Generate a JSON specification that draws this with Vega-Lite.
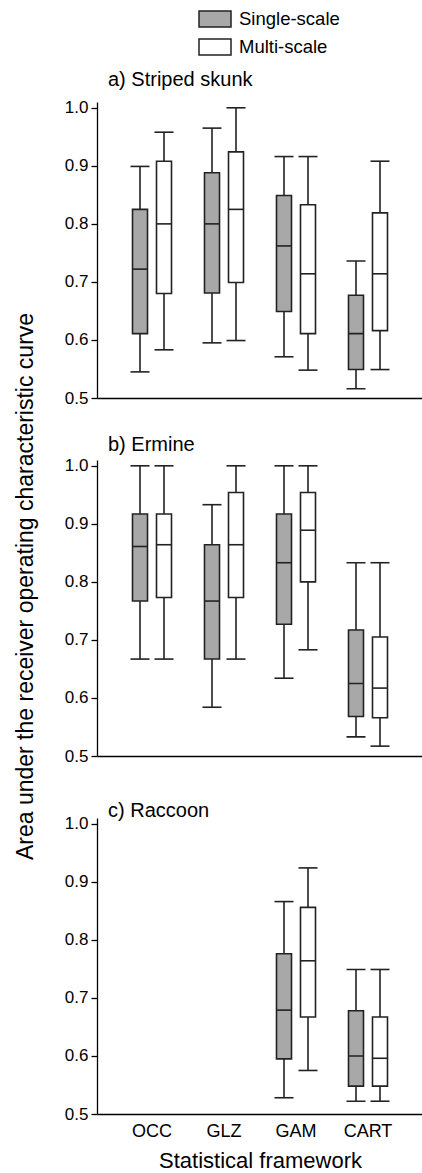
{
  "$schema": "https://vega.github.io/schema/vega-lite/v6.json",
  "autosize": {"type": "pad"},
  "padding": {"left": 14, "top": 2, "right": 1, "bottom": 1},
  "background": "white",
  "config": {
    "view": {"stroke": null},
    "font": "Liberation Sans",
    "axis": {"grid": false, "domainColor": "#000", "tickColor": "#000", "labelColor": "#000", "titleColor": "#000", "labelFont": "Liberation Sans", "titleFont": "Liberation Sans", "titleFontWeight": "normal", "domainWidth": 1.3, "tickWidth": 1.3}
  },
  "datasets": {
    "auc": [
      {"species": "Striped skunk", "framework": "OCC", "scale": "Single-scale", "min": 0.545, "q1": 0.611, "median": 0.722, "q3": 0.825, "max": 0.899},
      {"species": "Striped skunk", "framework": "OCC", "scale": "Multi-scale", "min": 0.583, "q1": 0.680, "median": 0.800, "q3": 0.908, "max": 0.958},
      {"species": "Striped skunk", "framework": "GLZ", "scale": "Single-scale", "min": 0.595, "q1": 0.681, "median": 0.800, "q3": 0.888, "max": 0.965},
      {"species": "Striped skunk", "framework": "GLZ", "scale": "Multi-scale", "min": 0.599, "q1": 0.699, "median": 0.825, "q3": 0.924, "max": 1.0},
      {"species": "Striped skunk", "framework": "GAM", "scale": "Single-scale", "min": 0.571, "q1": 0.649, "median": 0.762, "q3": 0.849, "max": 0.916},
      {"species": "Striped skunk", "framework": "GAM", "scale": "Multi-scale", "min": 0.548, "q1": 0.611, "median": 0.714, "q3": 0.833, "max": 0.916},
      {"species": "Striped skunk", "framework": "CART", "scale": "Single-scale", "min": 0.516, "q1": 0.549, "median": 0.611, "q3": 0.677, "max": 0.736},
      {"species": "Striped skunk", "framework": "CART", "scale": "Multi-scale", "min": 0.549, "q1": 0.616, "median": 0.714, "q3": 0.819, "max": 0.908},
      {"species": "Ermine", "framework": "OCC", "scale": "Single-scale", "min": 0.667, "q1": 0.767, "median": 0.861, "q3": 0.917, "max": 1.0},
      {"species": "Ermine", "framework": "OCC", "scale": "Multi-scale", "min": 0.667, "q1": 0.773, "median": 0.864, "q3": 0.917, "max": 1.0},
      {"species": "Ermine", "framework": "GLZ", "scale": "Single-scale", "min": 0.584, "q1": 0.667, "median": 0.767, "q3": 0.864, "max": 0.933},
      {"species": "Ermine", "framework": "GLZ", "scale": "Multi-scale", "min": 0.667, "q1": 0.773, "median": 0.864, "q3": 0.954, "max": 1.0},
      {"species": "Ermine", "framework": "GAM", "scale": "Single-scale", "min": 0.634, "q1": 0.727, "median": 0.833, "q3": 0.917, "max": 1.0},
      {"species": "Ermine", "framework": "GAM", "scale": "Multi-scale", "min": 0.683, "q1": 0.800, "median": 0.889, "q3": 0.954, "max": 1.0},
      {"species": "Ermine", "framework": "CART", "scale": "Single-scale", "min": 0.533, "q1": 0.568, "median": 0.625, "q3": 0.717, "max": 0.833},
      {"species": "Ermine", "framework": "CART", "scale": "Multi-scale", "min": 0.517, "q1": 0.566, "median": 0.617, "q3": 0.705, "max": 0.833},
      {"species": "Raccoon", "framework": "GAM", "scale": "Single-scale", "min": 0.528, "q1": 0.595, "median": 0.679, "q3": 0.776, "max": 0.866},
      {"species": "Raccoon", "framework": "GAM", "scale": "Multi-scale", "min": 0.575, "q1": 0.667, "median": 0.764, "q3": 0.856, "max": 0.924},
      {"species": "Raccoon", "framework": "CART", "scale": "Single-scale", "min": 0.522, "q1": 0.548, "median": 0.600, "q3": 0.678, "max": 0.749},
      {"species": "Raccoon", "framework": "CART", "scale": "Multi-scale", "min": 0.522, "q1": 0.548, "median": 0.596, "q3": 0.667, "max": 0.749}
    ]
  },
  "data": {"name": "auc"},
  "bounds": "flush",
  "spacing": 62,
  "vconcat": [
    {
      "width": 326, "height": 296,
      "title": {"text": "a) Striped skunk", "anchor": "start", "frame": "group", "dx": 11, "offset": -7, "baseline": "alphabetic", "fontSize": 20, "fontWeight": "normal", "font": "Liberation Sans", "color": "#000"},
      "transform": [{"filter": "datum.species === 'Striped skunk'"}],
      "encoding": {
        "x": {"field": "framework", "type": "nominal", "scale": {"domain": ["OCC", "GLZ", "GAM", "CART"], "paddingInner": 0, "paddingOuter": 0.264}, "axis": {"labels": false, "ticks": false, "title": null}},
        "xOffset": {"field": "scale", "type": "nominal", "scale": {"domain": ["Single-scale", "Multi-scale"], "paddingInner": 0.375, "paddingOuter": 0.6875}}
      },
      "layer": [
        {"mark": {"type": "rule", "stroke": "#222", "strokeWidth": 1.6},
         "encoding": {"y": {"field": "min", "type": "quantitative", "scale": {"domain": [0.5, 1.01], "nice": false, "zero": false}, "axis": {"values": [0.5, 0.6, 0.7, 0.8, 0.9, 1.0], "format": ".1f", "tickSize": 6, "labelPadding": 3, "labelFontSize": 17, "title": "Area under the receiver operating characteristic curve", "titleFontSize": 23, "titlePadding": 27, "titleY": 484}}, "y2": {"field": "max"}}},
        {"mark": {"type": "tick", "color": "#222", "size": 19, "thickness": 1.6, "opacity": 1}, "encoding": {"y": {"field": "min", "type": "quantitative"}}},
        {"mark": {"type": "tick", "color": "#222", "size": 19, "thickness": 1.6, "opacity": 1}, "encoding": {"y": {"field": "max", "type": "quantitative"}}},
        {"mark": {"type": "bar", "stroke": "#222", "strokeWidth": 1.6, "opacity": 1},
         "encoding": {"y": {"field": "q1", "type": "quantitative"}, "y2": {"field": "q3"},
           "fill": {"field": "scale", "type": "nominal", "scale": {"domain": ["Single-scale", "Multi-scale"], "range": ["#a8a8a8", "#ffffff"]},
             "legend": {"orient": "none", "legendX": 101, "legendY": -100, "title": null, "symbolType": "M-1,-0.5H1V0.5H-1Z", "symbolSize": 1024, "symbolStrokeColor": "#222", "symbolStrokeWidth": 1.5, "labelFontSize": 18.5, "labelFont": "Liberation Sans", "labelColor": "#000", "labelOffset": 7, "rowPadding": -2,
               "encode": {"symbols": {"update": {"stroke": {"value": "#222"}, "strokeWidth": {"value": 1.5}, "opacity": {"value": 1}}}}}}}},
        {"mark": {"type": "tick", "color": "#222", "size": 15, "thickness": 1.6, "opacity": 1}, "encoding": {"y": {"field": "median", "type": "quantitative"}}}
      ]
    },
    {
      "width": 326, "height": 296,
      "title": {"text": "b) Ermine", "anchor": "start", "frame": "group", "dx": 11, "offset": -14, "baseline": "alphabetic", "fontSize": 20, "fontWeight": "normal", "font": "Liberation Sans", "color": "#000"},
      "transform": [{"filter": "datum.species === 'Ermine'"}],
      "encoding": {
        "x": {"field": "framework", "type": "nominal", "scale": {"domain": ["OCC", "GLZ", "GAM", "CART"], "paddingInner": 0, "paddingOuter": 0.264}, "axis": {"labels": false, "ticks": false, "title": null}},
        "xOffset": {"field": "scale", "type": "nominal", "scale": {"domain": ["Single-scale", "Multi-scale"], "paddingInner": 0.375, "paddingOuter": 0.6875}}
      },
      "layer": [
        {"mark": {"type": "rule", "stroke": "#222", "strokeWidth": 1.6},
         "encoding": {"y": {"field": "min", "type": "quantitative", "scale": {"domain": [0.5, 1.01], "nice": false, "zero": false}, "axis": {"values": [0.5, 0.6, 0.7, 0.8, 0.9, 1.0], "format": ".1f", "tickSize": 6, "labelPadding": 3, "labelFontSize": 17, "title": null}}, "y2": {"field": "max"}}},
        {"mark": {"type": "tick", "color": "#222", "size": 19, "thickness": 1.6, "opacity": 1}, "encoding": {"y": {"field": "min", "type": "quantitative"}}},
        {"mark": {"type": "tick", "color": "#222", "size": 19, "thickness": 1.6, "opacity": 1}, "encoding": {"y": {"field": "max", "type": "quantitative"}}},
        {"mark": {"type": "bar", "stroke": "#222", "strokeWidth": 1.6, "opacity": 1},
         "encoding": {"y": {"field": "q1", "type": "quantitative"}, "y2": {"field": "q3"},
           "fill": {"field": "scale", "type": "nominal", "scale": {"domain": ["Single-scale", "Multi-scale"], "range": ["#a8a8a8", "#ffffff"]}, "legend": null}}},
        {"mark": {"type": "tick", "color": "#222", "size": 15, "thickness": 1.6, "opacity": 1}, "encoding": {"y": {"field": "median", "type": "quantitative"}}}
      ]
    },
    {
      "width": 326, "height": 296,
      "title": {"text": "c) Raccoon", "anchor": "start", "frame": "group", "dx": 11, "offset": -22, "baseline": "alphabetic", "fontSize": 20, "fontWeight": "normal", "font": "Liberation Sans", "color": "#000"},
      "transform": [{"filter": "datum.species === 'Raccoon'"}],
      "encoding": {
        "x": {"field": "framework", "type": "nominal", "scale": {"domain": ["OCC", "GLZ", "GAM", "CART"], "paddingInner": 0, "paddingOuter": 0.264}, "axis": {"labels": true, "ticks": false, "labelAngle": 0, "labelPadding": 8, "labelFontSize": 18, "title": "Statistical framework", "titleFontSize": 22, "titlePadding": 10}},
        "xOffset": {"field": "scale", "type": "nominal", "scale": {"domain": ["Single-scale", "Multi-scale"], "paddingInner": 0.375, "paddingOuter": 0.6875}}
      },
      "layer": [
        {"mark": {"type": "rule", "stroke": "#222", "strokeWidth": 1.6},
         "encoding": {"y": {"field": "min", "type": "quantitative", "scale": {"domain": [0.5, 1.01], "nice": false, "zero": false}, "axis": {"values": [0.5, 0.6, 0.7, 0.8, 0.9, 1.0], "format": ".1f", "tickSize": 6, "labelPadding": 3, "labelFontSize": 17, "title": null}}, "y2": {"field": "max"}}},
        {"mark": {"type": "tick", "color": "#222", "size": 19, "thickness": 1.6, "opacity": 1}, "encoding": {"y": {"field": "min", "type": "quantitative"}}},
        {"mark": {"type": "tick", "color": "#222", "size": 19, "thickness": 1.6, "opacity": 1}, "encoding": {"y": {"field": "max", "type": "quantitative"}}},
        {"mark": {"type": "bar", "stroke": "#222", "strokeWidth": 1.6, "opacity": 1},
         "encoding": {"y": {"field": "q1", "type": "quantitative"}, "y2": {"field": "q3"},
           "fill": {"field": "scale", "type": "nominal", "scale": {"domain": ["Single-scale", "Multi-scale"], "range": ["#a8a8a8", "#ffffff"]}, "legend": null}}},
        {"mark": {"type": "tick", "color": "#222", "size": 15, "thickness": 1.6, "opacity": 1}, "encoding": {"y": {"field": "median", "type": "quantitative"}}}
      ]
    }
  ]
}
